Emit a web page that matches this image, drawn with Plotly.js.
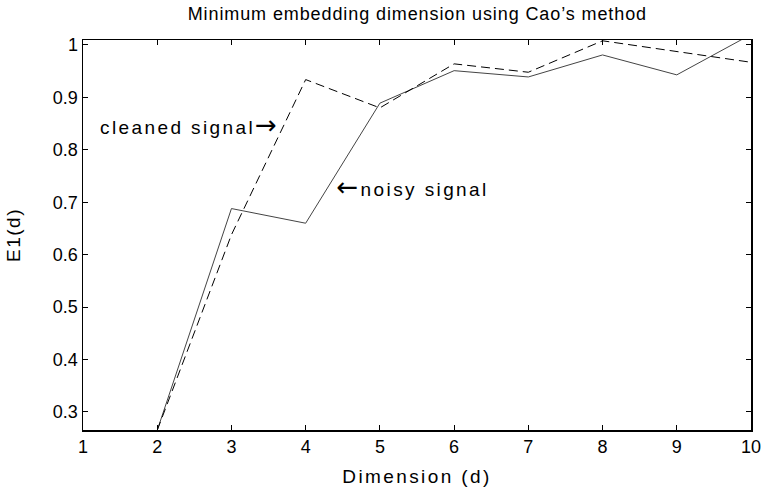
<!DOCTYPE html>
<html>
<head>
<meta charset="utf-8">
<script src="https://cdn.plot.ly/plotly-3.0.1.min.js"></script>
<style>
  html, body { margin: 0; padding: 0; background: #fff; }
  #chart { width: 763px; height: 488px; }
  /* wide, evenly tracked lettering for the texts */
  #chart .gtitle { letter-spacing: 0.9px; }
  #chart .g-xtitle text { letter-spacing: 2.4px; }
  #chart .g-ytitle text { letter-spacing: 1.5px; }
  #chart .annotation-text { letter-spacing: 2.4px; }
</style>
</head>
<body>
<div id="chart"></div>
<script>
// Embedding dimension d
const dimension = [2, 3, 4, 5, 6, 7, 8, 9, 10];
// E1(d) for the noisy and the cleaned signal
const noisyE1 = [0.265, 0.688, 0.660, 0.889, 0.951, 0.939, 0.981, 0.943, 1.020];
const cleanedE1 = [0.265, 0.638, 0.934, 0.880, 0.964, 0.948, 1.008, 0.988, 0.967];

const xTicks = [1, 2, 3, 4, 5, 6, 7, 8, 9, 10];
const yTicks = [0.3, 0.4, 0.5, 0.6, 0.7, 0.8, 0.9, 1];
const yTickText = ['0.3', '0.4', '0.5', '0.6', '0.7', '0.8', '0.9', '1'];

const font = 'Liberation Sans, Arial, Helvetica, sans-serif';
const arrowStyle = 'font-family:DejaVu Sans;font-size:26px';

const traces = [
  {
    x: dimension, y: noisyE1, type: 'scatter', mode: 'lines',
    line: { color: '#444', width: 1 }, name: 'noisy signal'
  },
  {
    x: dimension, y: cleanedE1, type: 'scatter', mode: 'lines',
    line: { color: '#000', width: 1, dash: '9px,5px' }, name: 'cleaned signal'
  }
];

const axisCommon = {
  showgrid: false, zeroline: false,
  showline: true, linecolor: '#000', linewidth: 1.5, mirror: 'ticks',
  ticks: 'inside', ticklen: 5, tickcolor: '#000', tickwidth: 1,
  tickfont: { family: font, size: 18, color: '#000' }
};

const layout = {
  width: 763, height: 488,
  margin: { l: 83, r: 12, t: 40, b: 58 },
  paper_bgcolor: '#fff', plot_bgcolor: '#fff',
  showlegend: false,
  title: {
    text: 'Minimum embedding dimension using Cao\u2019s method',
    font: { family: font, size: 18, color: '#000' },
    x: 0.547, xanchor: 'center', y: 0.971, yanchor: 'middle'
  },
  xaxis: Object.assign({}, axisCommon, {
    range: [1, 10], tickvals: xTicks,
    title: { text: 'Dimension (d)', font: { family: font, size: 19, color: '#000' }, standoff: 13 }
  }),
  yaxis: Object.assign({}, axisCommon, {
    range: [0.2656, 1.0095], tickvals: yTicks, ticktext: yTickText,
    title: { text: 'E1(d)', font: { family: font, size: 19, color: '#000' }, standoff: 27 }
  }),
  annotations: [
    {
      x: 2.44, y: 0.847, xref: 'x', yref: 'y', xanchor: 'center', yanchor: 'middle',
      text: 'cleaned signal<span style="' + arrowStyle + '">\u2192</span>', showarrow: false,
      font: { family: font, size: 19, color: '#000' }
    },
    {
      x: 5.436, y: 0.729, xref: 'x', yref: 'y', xanchor: 'center', yanchor: 'middle',
      text: '<span style="' + arrowStyle + '">\u2190</span>noisy signal', showarrow: false,
      font: { family: font, size: 19, color: '#000' }
    }
  ]
};

Plotly.newPlot('chart', traces, layout, { displayModeBar: false, staticPlot: true });
</script>
</body>
</html>
